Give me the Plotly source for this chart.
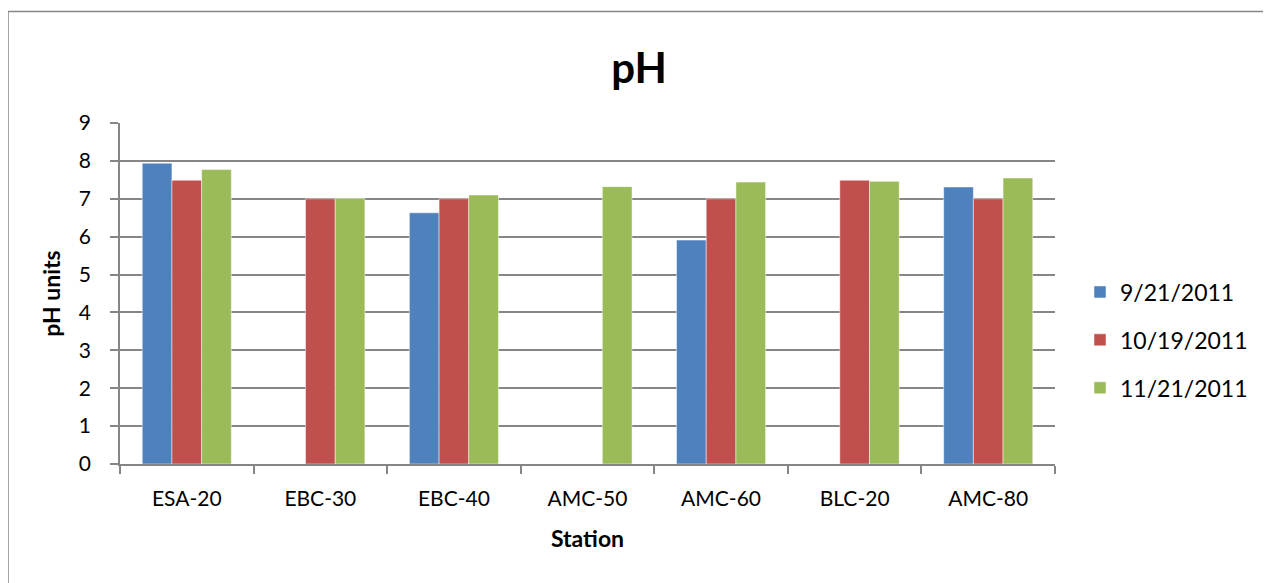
import plotly.graph_objects as go

stations = ["ESA-20", "EBC-30", "EBC-40", "AMC-50", "AMC-60", "BLC-20", "AMC-80"]
sep_2011 = [7.94, None, 6.63, None, 5.91, None, 7.31]
oct_2011 = [7.49, 7.00, 7.00, None, 7.00, 7.49, 7.00]
nov_2011 = [7.77, 7.01, 7.10, 7.32, 7.44, 7.46, 7.55]
series_names = ["9/21/2011", "10/19/2011", "11/21/2011"]
colors = ["#4F81BD", "#C0504D", "#9BBB59"]
y_ticks = list(range(0, 10))

FONT = "Lato, Liberation Sans, sans-serif"
GRID = "#868686"

fig = go.Figure()
for i, (name, vals, col) in enumerate(zip(series_names, [sep_2011, oct_2011, nov_2011], colors)):
    fig.add_trace(go.Bar(
        x=stations, y=vals, name=name, legendgroup=f"g{i}",
        marker=dict(color=col, line=dict(color="rgba(255,255,255,0.6)", width=0.8)),
    ))

# page has an 8px body margin; figure sized so the plot area lands at page x 120..1055, y 123..464
OFF = 8
W, H = 1263, 575
L, R, T, B = 112, 216, 115, 119
pw = W - L - R
ph = H - T - B

def px_to_paper_x(px):
    return (px - OFF - L) / pw

def px_to_paper_y(py):
    return (H - B - (py - OFF)) / ph

fig.update_layout(
    width=W, height=H,
    margin=dict(l=L, r=R, t=T, b=B),
    paper_bgcolor="white", plot_bgcolor="white",
    font=dict(family=FONT, color="black", size=21),
    barmode="group", bargap=0.333, bargroupgap=0,
    title=dict(text="<b>pH</b>", x=px_to_paper_x(639), xref="paper", xanchor="center",
               y=1 - (68 - OFF) / H, yanchor="middle",
               font=dict(size=42, family=FONT, color="black")),
    xaxis=dict(
        title=dict(text="<b>Station</b>", font=dict(size=23), standoff=22),
        showline=True, linecolor=GRID, linewidth=1.5,
        ticks="outside", ticklen=8, tickcolor=GRID, tickwidth=1.5,
        tickson="boundaries", showgrid=False,
        tickfont=dict(size=21), ticklabelstandoff=15,
    ),
    yaxis=dict(
        title=dict(text="<b>pH units</b>", font=dict(size=23), standoff=12),
        range=[0, 9], tickvals=y_ticks, showgrid=True, gridcolor=GRID, gridwidth=1.5,
        showline=True, linecolor=GRID, linewidth=1.5,
        ticks="outside", ticklen=8, tickcolor=GRID, tickwidth=1.5,
        tickfont=dict(size=21), zeroline=False, ticklabelstandoff=15,
    ),
    legend=dict(
        x=px_to_paper_x(1080), xanchor="left",
        y=px_to_paper_y(340), yanchor="middle",
        font=dict(size=23), tracegroupgap=15, traceorder="grouped",
        bgcolor="rgba(0,0,0,0)",
    ),
    shapes=[dict(
        type="rect", xref="paper", yref="paper",
        x0=px_to_paper_x(8), x1=px_to_paper_x(1300),
        y0=px_to_paper_y(620), y1=px_to_paper_y(11.5),
        line=dict(color=GRID, width=1.5), fillcolor="rgba(0,0,0,0)", layer="below",
    )],
)

fig.write_html("out.html")
